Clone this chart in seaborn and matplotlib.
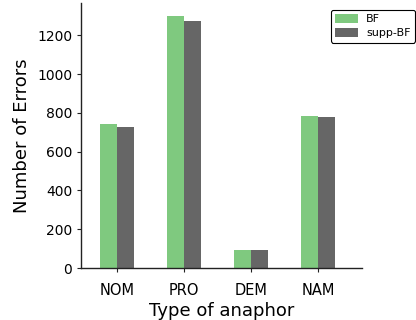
import matplotlib
matplotlib.use("Agg")
import matplotlib.pyplot as plt
import pandas as pd
import seaborn as sns

categories = ["NOM", "PRO", "DEM", "NAM"]
bf_errors = [744, 1299, 92, 781]
supp_bf_errors = [729, 1273, 92, 776]
series_names = ["BF", "supp-BF"]
colors = ["#7fc97f", "#666666"]

df = pd.DataFrame({
    "anaphor": categories * 2,
    "errors": bf_errors + supp_bf_errors,
    "system": [series_names[0]] * 4 + [series_names[1]] * 4,
})

sns.set_style("ticks")
plt.rcParams["font.family"] = ["DejaVu Sans"]
plt.rcParams["text.color"] = "black"
plt.rcParams["axes.labelcolor"] = "black"

fig = plt.figure(figsize=(4.16, 3.2), dpi=100)
ax = fig.add_axes([0.195, 0.1625, 0.675, 0.8275])

sns.barplot(data=df, x="anaphor", y="errors", hue="system", order=categories,
            hue_order=series_names, palette=colors, width=0.5, saturation=1,
            linewidth=0, ax=ax, legend=True)

ax.set_xlim(-0.53, 3.65)
ax.set_ylim(0, 1365)
ax.set_yticks([0, 200, 400, 600, 800, 1000, 1200])
ax.set_xlabel("Type of anaphor", fontsize=13, labelpad=3)
ax.set_ylabel("Number of Errors", fontsize=13)
ax.tick_params(axis="both", labelsize=10, length=3, width=0.8,
               colors="#222222", labelcolor="black")
ax.tick_params(axis="x", labelsize=10.5, pad=8)
for s in ["left", "bottom"]:
    ax.spines[s].set_color("#222222")
    ax.spines[s].set_linewidth(1.0)
sns.despine(ax=ax)

leg = ax.legend(loc="upper right", bbox_to_anchor=(0.998, 0.97),
                bbox_transform=fig.transFigure, borderaxespad=0.0,
                fontsize=8, frameon=True, fancybox=True, edgecolor="black",
                handlelength=2.1, handleheight=0.8,
                borderpad=0.4, labelspacing=0.35, handletextpad=0.7)
leg.get_frame().set_linewidth(0.8)
leg.get_frame().set_alpha(1)

fig.savefig("out.png", dpi=100)
